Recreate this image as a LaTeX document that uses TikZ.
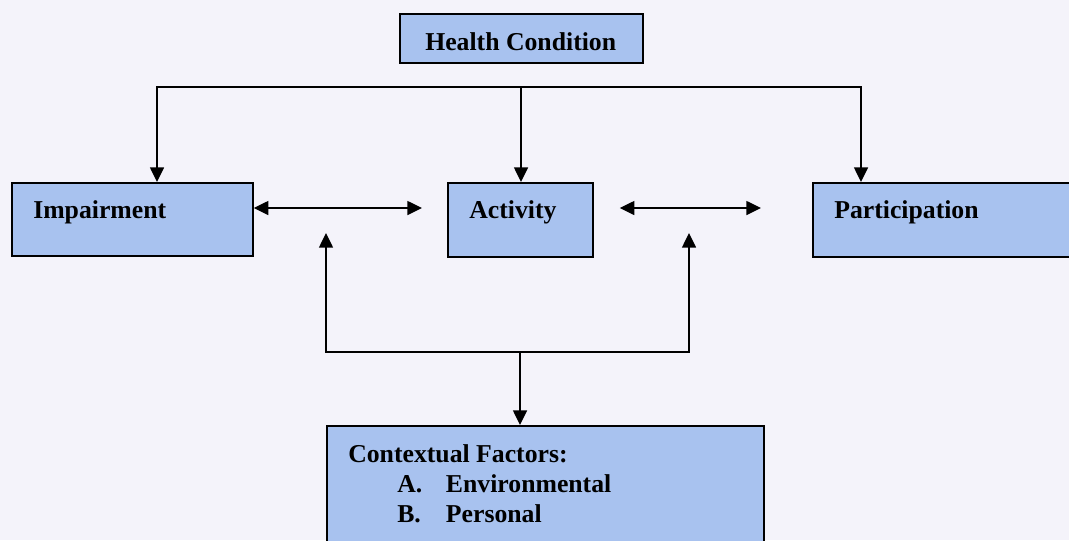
\documentclass[tikz,border=0pt]{standalone}
\usepackage{fontspec}
\setmainfont{Liberation Serif}
\usetikzlibrary{arrows.meta, positioning, calc}
\definecolor{scanbg}{RGB}{244,243,250}
\definecolor{boxblue}{RGB}{168,194,239}
\tikzset{%
	box/.style={draw, rectangle, fill=boxblue, line width=1.3pt, anchor=north west, inner sep=0pt},
	lbl/.style={font=\fontsize{19.3}{22.5}\selectfont\bfseries, inner sep=0pt, anchor=base west},
	link/.style={line width=1.1pt},
	sel/.style={-{Triangle[length=11pt, width=10.5pt]}, line width=1.1pt},
	both/.style={{Triangle[length=11pt, width=10.5pt]}-{Triangle[length=11pt, width=10.5pt]}, line width=1.1pt}
}

\begin{document}
\begin{tikzpicture}[x=0.75pt, y=-0.75pt]
	\fill[scanbg] (0,0) rectangle (1069,540);
	\useasboundingbox (0,0) rectangle (1069,540);
	\clip (0,0) rectangle (1069,540);

	% boxes
	\node[box, minimum width=182.25pt, minimum height=36.75pt] (hc) at (399,13) {};
	\node[box, minimum width=180.75pt, minimum height=54.75pt] (imp) at (11,182) {};
	\node[box, minimum width=108.75pt, minimum height=55.5pt] (act) at (447,182) {};
	\node[box, minimum width=195pt, minimum height=55.5pt] (par) at (812,182) {};
	\node[box, minimum width=327.75pt, minimum height=105pt] (ctx) at (326,425) {};

	% labels
	\node[lbl, below right=27.75pt and 19.5pt of hc.north west, anchor=base west] (hctext) {Health Condition};
	\node[lbl, below right=27pt and 16.5pt of imp.north west, anchor=base west] (imptext) {Impairment};
	\node[lbl, below right=27pt and 16.5pt of act.north west, anchor=base west] (acttext) {Activity};
	\node[lbl, below right=27pt and 16.5pt of par.north west, anchor=base west] (partext) {Participation};
	\node[lbl, below right=27.75pt and 16.5pt of ctx.north west, anchor=base west] (ctxtext)
		{\begin{tabular}[t]{@{}l@{}}
			Contextual Factors:\\
			\hspace*{36.75pt}\makebox[36.5pt][l]{A.}Environmental\\
			\hspace*{36.75pt}\makebox[36.5pt][l]{B.}Personal
		\end{tabular}};

	% top bus
	\coordinate (tl) at (157,87);
	\coordinate (tm) at (521,87);
	\coordinate (tr) at (861,87);
	\draw[both] (tl |- imp.north) -- (tl) -- (tr) -- (tr |- par.north);
	\draw[sel] (tm) -- (tm |- act.north);

	% sideways links
	\draw[both] ($(imp.north east)+(0,26)$) -- ($(act.north west)+(-25,26)$);
	\draw[both] ($(act.north east)+(26,26)$) -- ($(par.north west)+(-51,26)$);

	% bottom bracket
	\coordinate (ul) at (326,233);
	\coordinate (ur) at (689,233);
	\coordinate (bm) at (520,352);
	\draw[both] (ul) -- (ul |- bm) -- (ur |- bm) -- (ur);
	\draw[sel] (bm) -- (bm |- ctx.north);
\end{tikzpicture}
\end{document}
